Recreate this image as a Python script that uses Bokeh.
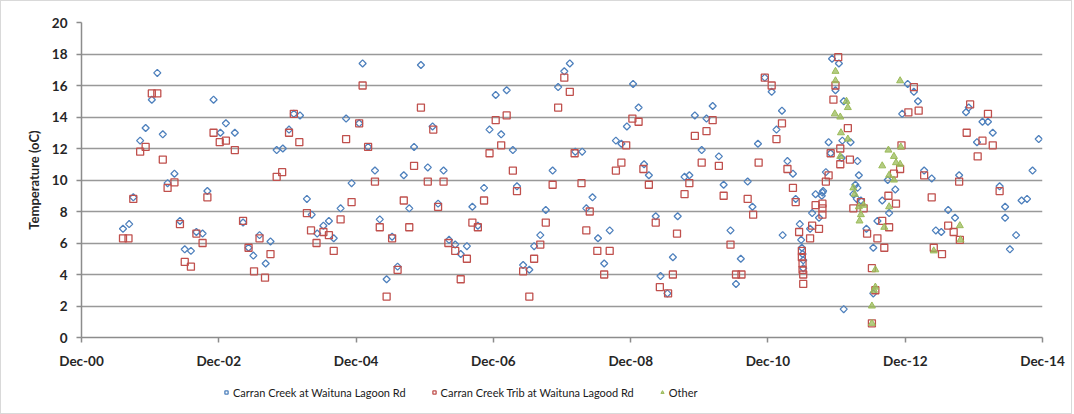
from datetime import datetime, timedelta
import numpy as np
from bokeh.plotting import figure
from bokeh.layouts import column
from bokeh.models import (Range1d, FixedTicker, DatetimeTickFormatter, Legend,
                          LegendItem, ColumnDataSource)
from bokeh.embed import file_html
from bokeh.resources import INLINE

# ---------------- data (decimal years, temperature oC) ----------------
creek_t = [2001.52, 2001.61, 2001.67, 2001.77, 2001.85, 2001.94, 2002.02, 2002.10, 2002.17, 2002.27,
           2002.35, 2002.42, 2002.51, 2002.59, 2002.68, 2002.75, 2002.84, 2002.94, 2003.02, 2003.15,
           2003.27, 2003.35, 2003.42, 2003.51, 2003.60, 2003.67, 2003.76, 2003.85, 2003.94, 2004.01,
           2004.10, 2004.20, 2004.27, 2004.35, 2004.44, 2004.52, 2004.59, 2004.69, 2004.77, 2004.85,
           2004.96, 2005.01, 2005.09, 2005.19, 2005.26, 2005.36, 2005.44, 2005.52, 2005.61, 2005.69,
           2005.76, 2005.86, 2005.96, 2006.03, 2006.11, 2006.19, 2006.27, 2006.36, 2006.44, 2006.53,
           2006.61, 2006.69, 2006.78, 2006.86, 2006.95, 2007.03, 2007.11, 2007.20, 2007.26, 2007.35,
           2007.44, 2007.51, 2007.60, 2007.68, 2007.78, 2007.86, 2007.95, 2008.03, 2008.11, 2008.21,
           2008.27, 2008.36, 2008.44, 2008.53, 2008.61, 2008.70, 2008.78, 2008.86, 2008.95, 2009.03,
           2009.11, 2009.18, 2009.28, 2009.35, 2009.45, 2009.53, 2009.60, 2009.70, 2009.77, 2009.85,
           2009.95, 2010.02, 2010.11, 2010.20, 2010.27, 2010.37, 2010.45, 2010.52, 2010.62, 2010.69,
           2010.77, 2010.87, 2010.97, 2011.04, 2011.12, 2011.13, 2011.20, 2011.28, 2011.32, 2011.38,
           2011.40, 2011.41, 2011.42, 2011.43, 2011.43, 2011.53, 2011.56, 2011.61, 2011.66, 2011.70,
           2011.71, 2011.72, 2011.76, 2011.80, 2011.83, 2011.85, 2011.90, 2011.95, 2011.99, 2012.00,
           2012.02, 2012.02, 2012.12, 2012.16, 2012.19, 2012.21, 2012.22, 2012.22, 2012.24, 2012.27,
           2012.35, 2012.45, 2012.45, 2012.51, 2012.58, 2012.66, 2012.68, 2012.77, 2012.87, 2012.95,
           2013.04, 2013.10, 2013.19, 2013.30, 2013.36, 2013.44, 2013.54, 2013.64, 2013.70, 2013.80,
           2013.84, 2013.96, 2014.04, 2014.12, 2014.19, 2014.29, 2014.37, 2014.37, 2014.44, 2014.53,
           2014.61, 2014.69, 2014.77, 2014.86]
creek_v = [6.9, 7.2, 8.9, 12.5, 13.3, 15.1, 16.8, 12.9, 9.8, 10.4,
           7.4, 5.6, 5.5, 6.7, 6.6, 9.3, 15.1, 13.0, 13.6, 13.0,
           7.3, 5.7, 5.2, 6.5, 4.7, 6.1, 11.9, 12.0, 13.2, 14.2,
           14.1, 8.8, 7.8, 6.6, 7.1, 7.4, 6.3, 8.2, 13.9, 9.8,
           13.6, 17.4, 12.1, 10.6, 7.5, 3.7, 6.4, 4.5, 10.3, 8.2,
           12.1, 17.3, 10.8, 13.4, 8.5, 10.6, 6.2, 5.9, 5.3, 5.8,
           8.3, 7.1, 9.5, 13.2, 15.4, 12.9, 15.7, 11.9, 9.6, 4.6,
           4.3, 5.8, 6.5, 8.1, 10.6, 15.9, 16.9, 17.4, 11.8, 11.8,
           8.2, 8.9, 6.3, 4.7, 6.8, 12.5, 12.3, 13.4, 16.1, 14.6,
           11.0, 10.3, 7.7, 3.9, 2.8, 5.1, 7.7, 10.2, 10.3, 14.1,
           11.9, 13.9, 14.7, 11.5, 9.7, 6.8, 3.4, 5.0, 9.9, 8.3,
           12.3, 16.5, 15.6, 13.2, 14.4, 6.5, 11.2, 10.4, 8.8, 7.2,
           6.2, 5.7, 5.3, 4.9, 4.4, 6.9, 7.9, 9.1, 7.6, 9.0,
           9.2, 9.3, 10.5, 12.4, 11.7, 17.7, 15.7, 17.4, 11.4, 12.5,
           15.0, 1.8, 12.4, 9.1, 9.7, 8.8, 11.2, 9.5, 10.3, 8.7,
           6.9, 5.7, 2.8, 7.4, 8.7, 10.0, 7.9, 9.4, 14.2, 16.1,
           15.6, 15.0, 10.6, 10.1, 6.8, 6.7, 8.1, 7.6, 10.3, 14.3,
           14.6, 12.4, 13.7, 13.7, 13.0, 9.6, 8.3, 7.6, 5.6, 6.5,
           8.7, 8.8, 10.6, 12.6]

trib_t = [2001.52, 2001.60, 2001.67, 2001.77, 2001.85, 2001.94, 2002.02, 2002.10, 2002.17, 2002.27,
          2002.35, 2002.42, 2002.51, 2002.59, 2002.68, 2002.75, 2002.84, 2002.93, 2003.02, 2003.15,
          2003.27, 2003.35, 2003.43, 2003.51, 2003.59, 2003.67, 2003.76, 2003.84, 2003.94, 2004.01,
          2004.09, 2004.20, 2004.26, 2004.34, 2004.44, 2004.52, 2004.59, 2004.69, 2004.77, 2004.85,
          2004.96, 2005.01, 2005.09, 2005.19, 2005.26, 2005.36, 2005.44, 2005.52, 2005.61, 2005.69,
          2005.76, 2005.86, 2005.96, 2006.04, 2006.11, 2006.19, 2006.26, 2006.36, 2006.44, 2006.53,
          2006.61, 2006.69, 2006.78, 2006.86, 2006.95, 2007.03, 2007.11, 2007.20, 2007.26, 2007.35,
          2007.44, 2007.51, 2007.60, 2007.68, 2007.78, 2007.86, 2007.95, 2008.03, 2008.10, 2008.20,
          2008.27, 2008.32, 2008.43, 2008.53, 2008.61, 2008.70, 2008.78, 2008.85, 2008.94, 2009.03,
          2009.10, 2009.18, 2009.28, 2009.34, 2009.46, 2009.53, 2009.59, 2009.70, 2009.77, 2009.85,
          2009.95, 2010.02, 2010.11, 2010.20, 2010.27, 2010.37, 2010.45, 2010.53, 2010.62, 2010.70,
          2010.78, 2010.87, 2010.97, 2011.04, 2011.12, 2011.20, 2011.28, 2011.32, 2011.37, 2011.41,
          2011.41, 2011.42, 2011.42, 2011.43, 2011.43, 2011.53, 2011.56, 2011.61, 2011.66, 2011.71,
          2011.71, 2011.71, 2011.76, 2011.80, 2011.83, 2011.87, 2011.90, 2011.94, 2011.97, 2011.97,
          2012.08, 2012.11, 2012.16, 2012.27, 2012.31, 2012.36, 2012.43, 2012.48, 2012.43, 2012.51,
          2012.58, 2012.61, 2012.67, 2012.68, 2012.75, 2012.78, 2012.84, 2012.86, 2012.96, 2013.04,
          2013.11, 2013.19, 2013.30, 2013.33, 2013.45, 2013.54, 2013.62, 2013.71, 2013.70, 2013.81,
          2013.86, 2013.97, 2014.04, 2014.12, 2014.19, 2014.29]
trib_v = [6.3, 6.3, 8.8, 11.8, 12.1, 15.5, 15.5, 11.3, 9.5, 9.85,
          7.2, 4.8, 4.5, 6.6, 6.0, 8.9, 13.0, 12.4, 12.5, 11.9,
          7.4, 5.7, 4.2, 6.3, 3.8, 5.3, 10.2, 10.5, 13.0, 14.2,
          12.4, 7.9, 6.8, 6.0, 6.7, 6.5, 5.5, 7.5, 12.6, 8.6,
          13.6, 16.0, 12.1, 9.9, 7.0, 2.6, 6.3, 4.3, 8.7, 7.0,
          10.9, 14.6, 9.9, 13.2, 8.3, 9.9, 6.0, 5.5, 3.7, 5.0,
          7.3, 7.0, 8.7, 11.7, 13.8, 12.2, 14.1, 10.6, 9.3, 4.2,
          2.6, 5.0, 5.9, 7.3, 9.7, 14.6, 16.5, 15.6, 11.7, 9.8,
          6.8, 8.0, 5.5, 4.0, 5.5, 10.6, 11.1, 12.2, 13.9, 13.7,
          10.7, 9.7, 7.3, 3.2, 2.8, 4.0, 6.6, 9.1, 9.8, 12.8,
          11.1, 13.1, 13.8, 10.9, 9.0, 5.9, 4.0, 4.0, 8.8, 7.8,
          11.1, 16.5, 16.0, 12.6, 13.6, 10.7, 9.5, 8.6, 6.7, 5.5,
          5.1, 4.7, 4.3, 4.0, 3.4, 6.3, 7.1, 8.4, 6.9, 8.5,
          8.2, 7.8, 9.9, 10.3, 11.7, 15.1, 16.0, 17.8, 12.0, 11.0,
          13.3, 11.3, 8.2, 8.6, 8.2, 6.6, 4.4, 3.0, 0.9, 6.3,
          7.4, 5.7, 9.0, 7.0, 10.4, 8.5, 10.7, 12.2, 14.3, 15.9,
          14.4, 10.3, 8.9, 5.7, 5.3, 7.1, 6.7, 6.2, 9.9, 13.0,
          14.8, 11.5, 12.5, 14.2, 12.2, 9.3]

other_t = [2011.90, 2011.90, 2011.89, 2011.97, 2012.06, 2012.08, 2011.98, 2012.08, 2011.97, 2012.16,
           2012.18, 2012.24, 2012.27, 2012.31, 2012.25, 2012.48, 2012.46, 2012.48, 2012.43, 2012.43,
           2012.58, 2012.67, 2012.75, 2012.78, 2012.84, 2012.68, 2012.75, 2012.68, 2012.61, 2012.85,
           2012.84, 2013.33, 2013.71, 2013.72]
other_v = [16.9, 16.3, 14.2, 14.0, 15.0, 14.6, 13.0, 12.6, 11.5, 9.5,
           9.1, 8.3, 7.8, 8.4, 7.4, 4.3, 3.0, 3.2, 2.0, 0.9,
           10.9, 11.9, 11.5, 11.1, 11.0, 10.3, 10.0, 8.3, 7.0, 12.1,
           16.3, 5.5, 7.1, 6.2]

series_names = ["Carran Creek at Waituna Lagoon Rd",
                "Carran Creek Trib at Waituna Lagood Rd",
                "Other"]
tick_years = [2000, 2002, 2004, 2006, 2008, 2010, 2012, 2014]
y_ticks = [0, 2, 4, 6, 8, 10, 12, 14, 16, 18, 20]
y_label = "Temperature (oC)"


def to_dt(y):
    yr = int(y)
    start = datetime(yr, 1, 1)
    ndays = (datetime(yr + 1, 1, 1) - start).days
    return start + timedelta(days=(y - yr) * ndays)


EPOCH = datetime(1970, 1, 1)


def ms(d):
    return (d - EPOCH).total_seconds() * 1000.0


FONT = "Lato"
BLUE, RED, GREEN = "#4f81bd", "#c0504d", "#9bbb59"
STYLES = [
    dict(marker="square", angle=np.pi / 4, size=5, line_color=BLUE, line_width=1.3, fill_alpha=0),
    dict(marker="square", size=7, line_color=RED, line_width=1.3, fill_alpha=0),
    dict(marker="triangle", size=7, line_color=GREEN, line_width=1, fill_color=GREEN, fill_alpha=0.75),
]

# ---------------- main chart ----------------
p = figure(frame_width=961, frame_height=315, x_axis_type="datetime",
           output_backend="svg", toolbar_location=None,
           x_range=Range1d(datetime(2000, 12, 1), datetime(2014, 12, 1)),
           y_range=Range1d(0, 20),
           min_border_left=80, min_border_right=29, min_border_top=21, min_border_bottom=36)
p.outline_line_color = None
p.background_fill_color = "white"
p.border_fill_color = "white"

sources = [ColumnDataSource(dict(x=[to_dt(t) for t in ts], y=vs))
           for ts, vs in ((creek_t, creek_v), (trib_t, trib_v), (other_t, other_v))]
for src, st in zip(sources, STYLES):
    p.scatter("x", "y", source=src, **st)

p.xaxis.ticker = FixedTicker(ticks=[ms(datetime(y, 12, 1)) for y in tick_years])
p.xaxis.formatter = DatetimeTickFormatter(years="%b-%y", months="%b-%y", days="%b-%y",
                                          hours="%b-%y", minutes="%b-%y", seconds="%b-%y",
                                          milliseconds="%b-%y")
p.yaxis.ticker = FixedTicker(ticks=y_ticks)
for ax in (p.xaxis[0], p.yaxis[0]):
    ax.axis_line_color = "#8c8c8c"
    ax.axis_line_width = 1.5
    ax.major_tick_line_color = "#8c8c8c"
    ax.major_tick_line_width = 1.5
    ax.major_tick_in = 0
    ax.major_tick_out = 5
    ax.minor_tick_line_color = None
    ax.major_label_text_font = FONT
    ax.major_label_text_font_size = "13.5px"
    ax.major_label_text_font_style = "bold"
    ax.major_label_text_color = "#262626"
p.xaxis.major_label_standoff = 10
p.yaxis.major_label_standoff = 9
p.yaxis.axis_label = y_label
p.yaxis.axis_label_text_font = FONT
p.yaxis.axis_label_text_font_size = "13px"
p.yaxis.axis_label_text_font_style = "bold"
p.yaxis.axis_label_text_color = "#262626"
p.yaxis.axis_label_standoff = 7

p.xgrid.grid_line_color = None
p.ygrid.grid_line_color = "#999999"
p.ygrid.grid_line_width = 1.5

# ---------------- legend strip (its own small figure under the chart) ----------------
# The strip's renderers share the series sources; its own ranges keep them out of view,
# so only the legend keys (which need real glyph data) are drawn.
lg = figure(width=1070, height=40, output_backend="svg", toolbar_location=None,
            x_axis_location=None, y_axis_location=None,
            x_range=Range1d(0, 1), y_range=Range1d(0, 1),
            min_border_left=0, min_border_right=0, min_border_top=0, min_border_bottom=0)
lg.outline_line_color = None
lg.grid.grid_line_color = None
lg.background_fill_color = "white"
lg.border_fill_color = "white"
legend_renderers = [lg.scatter("x", "y", source=src, **st) for src, st in zip(sources, STYLES)]
legend = Legend(items=[LegendItem(label=name, renderers=[r], index=0)
                       for name, r in zip(series_names, legend_renderers)],
                orientation="horizontal", location=(141, 13),
                label_text_font=FONT, label_text_font_size="11px",
                label_text_color="#1a1a1a", glyph_width=8, glyph_height=8,
                label_standoff=3, spacing=24, padding=0, margin=0,
                border_line_color=None, background_fill_alpha=0,
                label_height=16)
lg.add_layout(legend)

layout = column(p, lg, spacing=0, styles={"border": "1px solid #d9d9d9"})

open("out.html", "w").write(file_html(layout, INLINE))
